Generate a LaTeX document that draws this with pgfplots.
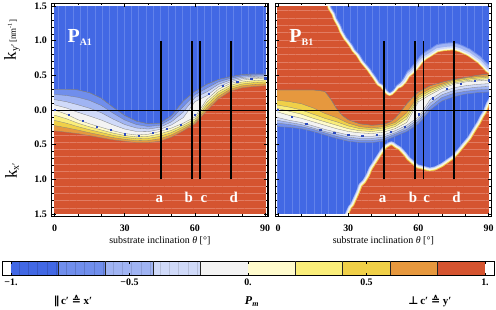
\documentclass[border=0pt]{standalone}
\usepackage{pgfplots}
\pgfplotsset{compat=1.18}
\usepackage{pgfplotstable}
\usetikzlibrary{patterns.meta}
\usepackage{fontspec}
\setmainfont{Liberation Serif}
\newfontfamily\dejavu{DejaVu Sans}

\definecolor{B1}{RGB}{66,104,228}
\definecolor{B2}{RGB}{112,142,236}
\definecolor{B3}{RGB}{160,180,243}
\definecolor{B4}{RGB}{208,218,249}
\definecolor{W}{RGB}{243,243,243}
\definecolor{Y1}{RGB}{255,251,204}
\definecolor{Y2}{RGB}{250,238,122}
\definecolor{Y3}{RGB}{240,208,72}
\definecolor{O}{RGB}{230,152,62}
\definecolor{R}{RGB}{213,84,48}
\definecolor{Rl}{RGB}{226,124,98}
\definecolor{B1l}{RGB}{98,130,234}
\definecolor{dotc}{RGB}{45,75,190}

\tikzset{
 vpat/.style={postaction={pattern={Lines[angle=90,distance=7.3bp,line width=0.45bp]},pattern color=B1l}},
 hpat/.style={postaction={pattern={Lines[angle=0,distance=7.3bp,line width=0.45bp]},pattern color=Rl}},
 lay/.style={draw=black!50, line width=0.3bp},
}

\pgfplotsset{
 panel/.style={
  anchor=south west, scale only axis, width=216.3bp, height=213.4bp,
  xmin=-1.2, xmax=91.2, ymin=-1.54, ymax=1.54,
  axis on top,
  xtick={0,30,60,90}, xticklabels={0,30,60,90}, minor x tick num=2,
  ytick={-1.5,-1,-0.5,0,0.5,1,1.5}, minor y tick num=4,
  major tick length=4bp, minor tick length=2.2bp,
  tick style={black, line width=0.5bp},
  axis line style={black, line width=1.1bp},
  tick label style={font=\bfseries\fontsize{10}{12}\selectfont},
  xticklabel style={anchor=center, yshift=-11.3bp},
  yticklabel style={anchor=east, xshift=-1.4bp},
  xlabel={substrate inclination \textit{θ} [°]},
  xlabel style={font=\fontsize{10}{12}\selectfont, at={(axis description cs:0.5,-0.114)}, anchor=center},
 },
}

% right panel: upper-right blue region (outer edge) and its core
\pgfplotstableread{
x y
22.0 1.70
22.8 1.49
24.5 1.40
25.2 1.33
27.0 1.22
27.8 1.15
29.5 1.05
30.5 1.01
32.0 0.94
33.0 0.88
34.9 0.81
36.5 0.72
37.5 0.68
39.5 0.60
40.5 0.55
42.0 0.48
43.5 0.40
45.0 0.37
46.5 0.30
47.7 0.26
49.0 0.30
50.5 0.36
52.0 0.38
53.4 0.43
55.0 0.52
56.5 0.56
58.5 0.63
60.5 0.72
62.5 0.78
64.5 0.82
67.7 0.89
71.0 0.91
74.8 0.92
78.0 0.89
81.9 0.83
84.0 0.78
86.5 0.72
88.5 0.65
89.8 0.60
91.5 0.56
96.0 0.54
96.0 1.70
}\ubouter
\pgfplotstableread{
x y
22.0 1.70
22.8 1.49
24.5 1.40
25.2 1.33
27.0 1.22
27.8 1.15
29.5 1.05
30.5 1.01
32.0 0.94
33.0 0.88
34.9 0.81
36.5 0.72
37.5 0.68
39.5 0.60
40.5 0.55
42.0 0.48
43.5 0.40
45.0 0.37
46.5 0.30
47.7 0.26
49.0 0.29
50.5 0.36
52.0 0.40
53.4 0.46
55.0 0.56
56.5 0.61
58.5 0.69
60.5 0.78
62.5 0.84
64.5 0.88
67.7 0.95
71.0 0.97
74.8 0.98
78.0 0.95
81.9 0.89
84.0 0.84
86.5 0.78
88.5 0.71
89.8 0.67
91.5 0.63
96.0 0.61
96.0 1.70
}\ubcore
% right panel: lower red region
\pgfplotstableread{
x y
28.0 -1.70
29.9 -1.54
31.5 -1.42
32.5 -1.38
34.9 -1.20
36.0 -1.10
37.5 -1.05
39.1 -0.96
40.5 -0.85
41.5 -0.80
43.0 -0.72
44.9 -0.62
46.5 -0.55
48.4 -0.51
50.0 -0.55
51.5 -0.58
53.4 -0.65
55.0 -0.72
57.0 -0.78
59.1 -0.84
61.5 -0.86
64.8 -0.89
67.5 -0.87
70.5 -0.82
73.0 -0.76
75.5 -0.70
77.6 -0.62
80.0 -0.52
82.5 -0.42
84.8 -0.29
86.5 -0.20
88.0 -0.10
89.0 -0.05
90.5 0.08
91.5 0.14
96.0 0.20
96.0 -1.70
}\lowred

\begin{document}
\begin{tikzpicture}

%================ LEFT PANEL P_A1 ================
\begin{axis}[panel, at={(51.7bp,93.3bp)},
  yticklabels={1.5,1.0,0.5,0.0,0.5,1.0,1.5}]
\addplot[fill=R, draw=none, hpat] coordinates {(-5,-2) (96,-2) (96,2) (-5,2)};
\addplot[fill=O, lay] coordinates {(-5,-0.30) (0,-0.30) (5,-0.32) (10,-0.34) (15,-0.37) (20,-0.40) (25,-0.43) (30,-0.45) (35,-0.47) (40,-0.47) (45,-0.45) (50,-0.39) (55,-0.30) (60,-0.20) (65,-0.01) (70,0.16) (75,0.27) (80,0.32) (85,0.34) (90,0.35) (96,0.35) (96,2) (-5,2)};
\addplot[fill=Y3, lay] coordinates {(-5,-0.225) (0,-0.225) (5,-0.255) (10,-0.29) (15,-0.328) (20,-0.363) (25,-0.398) (30,-0.423) (35,-0.443) (40,-0.44) (45,-0.415) (50,-0.358) (55,-0.273) (60,-0.18) (65,0.03) (70,0.195) (75,0.298) (80,0.348) (85,0.368) (90,0.378) (96,0.378) (96,2) (-5,2)};
\addplot[fill=Y2, lay] coordinates {(-5,-0.15) (0,-0.15) (5,-0.19) (10,-0.24) (15,-0.285) (20,-0.325) (25,-0.365) (30,-0.395) (35,-0.415) (40,-0.41) (45,-0.38) (50,-0.325) (55,-0.245) (60,-0.16) (65,0.07) (70,0.23) (75,0.325) (80,0.375) (85,0.395) (90,0.405) (96,0.405) (96,2) (-5,2)};
\addplot[fill=Y1, lay] coordinates {(-5,-0.075) (0,-0.075) (5,-0.125) (10,-0.19) (15,-0.243) (20,-0.288) (25,-0.333) (30,-0.368) (35,-0.388) (40,-0.38) (45,-0.345) (50,-0.293) (55,-0.218) (60,-0.13) (65,0.11) (70,0.265) (75,0.353) (80,0.403) (85,0.423) (90,0.433) (96,0.433) (96,2) (-5,2)};
\addplot[fill=W, lay] coordinates {(-5,0) (0,0) (5,-0.06) (10,-0.14) (15,-0.20) (20,-0.25) (25,-0.30) (30,-0.34) (35,-0.36) (40,-0.35) (45,-0.31) (50,-0.26) (55,-0.19) (60,-0.10) (65,0.15) (70,0.30) (75,0.38) (80,0.43) (85,0.45) (90,0.46) (96,0.46) (96,2) (-5,2)};
\addplot[fill=B4, lay] coordinates {(-5,0.075) (0,0.075) (5,0.03) (10,-0.033) (15,-0.088) (20,-0.145) (25,-0.215) (30,-0.275) (35,-0.31) (40,-0.313) (45,-0.28) (50,-0.215) (55,-0.11) (60,0.12) (65,0.205) (70,0.335) (75,0.405) (80,0.45) (85,0.468) (90,0.475) (96,0.475) (96,2) (-5,2)};
\addplot[fill=B3, lay] coordinates {(-5,0.15) (0,0.15) (5,0.12) (10,0.075) (15,0.025) (20,-0.04) (25,-0.13) (30,-0.21) (35,-0.26) (40,-0.275) (45,-0.25) (50,-0.17) (55,-0.03) (60,0.18) (65,0.26) (70,0.37) (75,0.43) (80,0.47) (85,0.485) (90,0.49) (96,0.49) (96,2) (-5,2)};
\addplot[fill=B2, lay] coordinates {(-5,0.225) (0,0.225) (5,0.21) (10,0.183) (15,0.138) (20,0.065) (25,-0.045) (30,-0.145) (35,-0.21) (40,-0.238) (45,-0.22) (50,-0.125) (55,0.05) (60,0.22) (65,0.315) (70,0.405) (75,0.455) (80,0.49) (85,0.503) (90,0.505) (96,0.505) (96,2) (-5,2)};
\addplot[fill=B1, lay, vpat] coordinates {(-5,0.30) (0,0.30) (5,0.30) (10,0.29) (15,0.25) (20,0.17) (25,0.04) (30,-0.08) (35,-0.16) (40,-0.20) (45,-0.19) (50,-0.08) (55,0.13) (60,0.27) (65,0.37) (70,0.44) (75,0.48) (80,0.51) (85,0.52) (90,0.52) (96,0.52) (96,2) (-5,2)};
\addplot[only marks, mark=square*, mark size=0.6bp, color=dotc] coordinates {(0,0.0) (6,-0.07) (12,-0.16) (18,-0.24) (24,-0.29) (30,-0.35) (36,-0.37) (42,-0.33) (48,-0.27) (54,-0.21) (60,-0.07) (66,0.23) (72,0.35) (78,0.41) (84,0.45) (90,0.46)};
\addplot[black, line width=0.6bp] coordinates {(-5,0) (96,0)};
\addplot[black, line width=1.7bp] coordinates {(45.4,-1) (45.4,1)};
\addplot[black, line width=1.7bp] coordinates {(58.6,-1) (58.6,1)};
\addplot[black, line width=1.7bp] coordinates {(62.2,-1) (62.2,1)};
\addplot[black, line width=1.7bp] coordinates {(75.3,-1) (75.3,1)};
\node[text=white, anchor=base west, inner sep=0pt] at (axis cs:5.5,0.98) {\bfseries\fontsize{20}{20}\selectfont P\raisebox{-3.5bp}{\fontsize{10}{10}\selectfont A1}};
\node[text=white, anchor=base, inner sep=0pt, font=\bfseries\fontsize{15}{15}\selectfont] at (axis cs:44.8,-1.34) {a};
\node[text=white, anchor=base, inner sep=0pt, font=\bfseries\fontsize{15}{15}\selectfont] at (axis cs:57.4,-1.34) {b};
\node[text=white, anchor=base, inner sep=0pt, font=\bfseries\fontsize{15}{15}\selectfont] at (axis cs:63.8,-1.34) {c};
\node[text=white, anchor=base, inner sep=0pt, font=\bfseries\fontsize{15}{15}\selectfont] at (axis cs:76.6,-1.34) {d};
\draw[white, line width=4.5bp] (rel axis cs:0,0) rectangle (rel axis cs:1,1);
\end{axis}

%================ RIGHT PANEL P_B1 ================
\begin{axis}[panel, at={(275.2bp,93.3bp)}, yticklabels={,,,,,,}]
\addplot[fill=B1, draw=none, vpat] coordinates {(-5,-2) (96,-2) (96,2) (-5,2)};
\addplot[fill=B2, lay] coordinates {(-5,-0.24) (0,-0.24) (5,-0.25) (10,-0.27) (15,-0.31) (20,-0.36) (25,-0.41) (30,-0.45) (35,-0.47) (40,-0.47) (45,-0.45) (50,-0.38) (55,-0.31) (60,-0.20) (65,0.0) (70,0.13) (75,0.19) (80,0.23) (85,0.25) (90,0.26) (96,0.26) (96,2) (-5,2)};
\addplot[fill=B3, lay] coordinates {(-5,-0.19) (0,-0.19) (5,-0.21) (10,-0.24) (15,-0.28) (20,-0.33) (25,-0.38) (30,-0.42) (35,-0.44) (40,-0.44) (45,-0.42) (50,-0.35) (55,-0.28) (60,-0.16) (65,0.05) (70,0.18) (75,0.24) (80,0.27) (85,0.29) (90,0.30) (96,0.30) (96,2) (-5,2)};
\addplot[fill=B4, lay] coordinates {(-5,-0.15) (0,-0.15) (5,-0.18) (10,-0.21) (15,-0.26) (20,-0.31) (25,-0.35) (30,-0.39) (35,-0.41) (40,-0.41) (45,-0.39) (50,-0.33) (55,-0.25) (60,-0.13) (65,0.10) (70,0.22) (75,0.28) (80,0.31) (85,0.33) (90,0.34) (96,0.34) (96,2) (-5,2)};
\addplot[fill=W, lay] coordinates {(-5,-0.11) (0,-0.11) (5,-0.15) (10,-0.18) (15,-0.23) (20,-0.28) (25,-0.32) (30,-0.36) (35,-0.38) (40,-0.38) (45,-0.36) (50,-0.30) (55,-0.22) (60,-0.10) (65,0.15) (70,0.26) (75,0.32) (80,0.35) (85,0.37) (90,0.38) (96,0.38) (96,2) (-5,2)};
\addplot[fill=Y1, lay] coordinates {(-5,-0.03) (0,-0.03) (5,-0.08) (10,-0.12) (15,-0.17) (20,-0.22) (25,-0.27) (30,-0.31) (35,-0.33) (40,-0.34) (45,-0.32) (50,-0.27) (55,-0.18) (60,0.12) (65,0.22) (70,0.31) (75,0.37) (80,0.405) (85,0.42) (90,0.43) (96,0.43) (96,2) (-5,2)};
\addplot[fill=Y2, lay] coordinates {(-5,0.02) (0,0.02) (5,-0.02) (10,-0.06) (15,-0.12) (20,-0.17) (25,-0.22) (30,-0.27) (35,-0.30) (40,-0.31) (45,-0.29) (50,-0.24) (55,-0.13) (60,0.15) (65,0.25) (70,0.33) (75,0.39) (80,0.42) (85,0.44) (90,0.45) (96,0.45) (96,2) (-5,2)};
\addplot[fill=Y3, lay] coordinates {(-5,0.07) (0,0.07) (5,0.04) (10,0.0) (15,-0.06) (20,-0.12) (25,-0.17) (30,-0.23) (35,-0.27) (40,-0.28) (45,-0.26) (50,-0.21) (55,-0.09) (60,0.18) (65,0.28) (70,0.35) (75,0.41) (80,0.44) (85,0.46) (90,0.47) (96,0.47) (96,2) (-5,2)};
\addplot[fill=O, lay] coordinates {(-5,0.14) (0,0.14) (5,0.12) (10,0.09) (15,0.03) (20,-0.05) (25,-0.11) (30,-0.19) (35,-0.24) (40,-0.26) (45,-0.24) (50,-0.18) (55,-0.04) (60,0.21) (65,0.31) (70,0.37) (75,0.43) (80,0.46) (85,0.48) (90,0.49) (96,0.49) (96,2) (-5,2)};
\addplot[fill=R, lay, hpat] coordinates {(-5,0.29) (0,0.29) (5,0.29) (10,0.29) (15,0.29) (20,0.27) (22.5,0.16) (25,0.02) (27.5,-0.08) (30,-0.14) (35,-0.20) (40,-0.22) (45,-0.21) (48,-0.17) (50,-0.12) (52.5,-0.02) (55,0.09) (57.5,0.18) (60,0.26) (65,0.35) (70,0.40) (75,0.44) (80,0.47) (85,0.50) (90,0.52) (96,0.52) (96,2) (-5,2)};
% upper-right blue region with halo
\addplot[fill=Y3, draw=Y3, line width=8bp, line join=round] table {\ubouter};
\addplot[fill=Y1, draw=Y1, line width=6.5bp, line join=round] table {\ubouter};
\addplot[fill=W, draw=W, line width=5bp, line join=round] table {\ubouter};
\addplot[fill=B4, draw=B4, line width=3.5bp, line join=round] table {\ubouter};
\addplot[fill=B3, draw=none] table {\ubouter};
\addplot[fill=B2, draw=B2, line width=2bp, line join=round] table {\ubcore};
\addplot[fill=B1, draw=none, vpat] table {\ubcore};
% lower red region with halo
\addplot[fill=B3, draw=B3, line width=8bp, line join=round] table {\lowred};
\addplot[fill=B4, draw=B4, line width=6.5bp, line join=round] table {\lowred};
\addplot[fill=W, draw=W, line width=5bp, line join=round] table {\lowred};
\addplot[fill=Y1, draw=Y1, line width=3.5bp, line join=round] table {\lowred};
\addplot[fill=Y3, draw=Y3, line width=2bp, line join=round] table {\lowred};
\addplot[fill=R, draw=none, hpat] table {\lowred};
\addplot[only marks, mark=square*, mark size=0.6bp, color=dotc] coordinates {(0,0) (6,-0.1) (12,-0.2) (18,-0.29) (24,-0.33) (30,-0.36) (36,-0.37) (42,-0.36) (48,-0.31) (54,-0.24) (60,-0.06) (66,0.17) (72,0.31) (78,0.38) (84,0.42) (90,0.43)};
\addplot[black, line width=0.6bp] coordinates {(-5,0) (96,0)};
\addplot[black, line width=1.7bp] coordinates {(45.4,-1) (45.4,1)};
\addplot[black, line width=1.7bp] coordinates {(58.6,-1) (58.6,1)};
\addplot[black, line width=1.7bp] coordinates {(62.2,-1) (62.2,1)};
\addplot[black, line width=1.7bp] coordinates {(75.3,-1) (75.3,1)};
\node[text=white, anchor=base west, inner sep=0pt] at (axis cs:4.8,0.98) {\bfseries\fontsize{20}{20}\selectfont P\raisebox{-3.5bp}{\fontsize{10}{10}\selectfont B1}};
\node[text=white, anchor=base, inner sep=0pt, font=\bfseries\fontsize{15}{15}\selectfont] at (axis cs:44.7,-1.34) {a};
\node[text=white, anchor=base, inner sep=0pt, font=\bfseries\fontsize{15}{15}\selectfont] at (axis cs:57.7,-1.34) {b};
\node[text=white, anchor=base, inner sep=0pt, font=\bfseries\fontsize{15}{15}\selectfont] at (axis cs:63.5,-1.34) {c};
\node[text=white, anchor=base, inner sep=0pt, font=\bfseries\fontsize{15}{15}\selectfont] at (axis cs:76.3,-1.34) {d};
\draw[white, line width=4.5bp] (rel axis cs:0,0) rectangle (rel axis cs:1,1);
\end{axis}

%================ COLOUR BAR ================
\begin{axis}[at={(2bp,35bp)}, anchor=south west, scale only axis, width=492bp, height=14bp,
  xmin=-1.038, xmax=1.038, ymin=0, ymax=1, ytick=\empty,
  xtick={-1,-0.5,0,0.5,1}, xticklabels={−1.,−0.5,0.,0.5,1.},
  major tick length=2.5bp, tick style={black, line width=0.5bp},
  tick label style={font=\bfseries\fontsize{10}{12}\selectfont},
  xticklabel style={anchor=center, yshift=-7bp},
  axis line style={black, line width=0.9bp}, axis on top,
  extra x ticks={-0.8,-0.6,-0.4,-0.2,0.2,0.4,0.6,0.8}, extra x tick labels={},
  extra x tick style={grid=major, major grid style={black!85, line width=0.9bp}, major tick length=0pt}]
\addplot[fill=B1, draw=none, postaction={pattern={Lines[angle=90,distance=9.4bp,line width=0.4bp]}, pattern color=B1!85!black}] coordinates {(-1,0) (-0.8,0) (-0.8,1) (-1,1)};
\addplot[fill=B2, draw=none, postaction={pattern={Lines[angle=90,distance=9.4bp,line width=0.4bp]}, pattern color=B2!85!black}] coordinates {(-0.8,0) (-0.6,0) (-0.6,1) (-0.8,1)};
\addplot[fill=B3, draw=none, postaction={pattern={Lines[angle=90,distance=9.4bp,line width=0.4bp]}, pattern color=B3!88!black}] coordinates {(-0.6,0) (-0.4,0) (-0.4,1) (-0.6,1)};
\addplot[fill=B4, draw=none, postaction={pattern={Lines[angle=90,distance=9.4bp,line width=0.4bp]}, pattern color=B4!88!black}] coordinates {(-0.4,0) (-0.2,0) (-0.2,1) (-0.4,1)};
\addplot[fill=W, draw=none] coordinates {(-0.2,0) (0,0) (0,1) (-0.2,1)};
\addplot[fill=Y1, draw=none] coordinates {(0,0) (0.2,0) (0.2,1) (0,1)};
\addplot[fill=Y2, draw=none] coordinates {(0.2,0) (0.4,0) (0.4,1) (0.2,1)};
\addplot[fill=Y3, draw=none] coordinates {(0.4,0) (0.6,0) (0.6,1) (0.4,1)};
\addplot[fill=O, draw=none] coordinates {(0.6,0) (0.8,0) (0.8,1) (0.6,1)};
\addplot[fill=R, draw=none] coordinates {(0.8,0) (1,0) (1,1) (0.8,1)};
\end{axis}

%================ TEXT ================
\node[rotate=90, anchor=center, inner sep=0pt] at (12bp,270bp) {{\fontsize{17}{17}\selectfont k}\raisebox{-2bp}{\fontsize{10}{10}\selectfont y′}\,{\fontsize{9}{9}\selectfont [nm\textsuperscript{-1}]}};
\node[rotate=90, anchor=center, inner sep=0pt] at (12bp,139bp) {{\fontsize{17}{17}\selectfont k}\raisebox{-2bp}{\fontsize{10}{10}\selectfont x′}};
\node[anchor=center, inner sep=0pt, font=\bfseries\fontsize{11}{12}\selectfont] at (73bp,8.5bp) {{\dejavu\bfseries ∥}\,c′ {\dejavu\bfseries ≙} x′};
\node[anchor=center, inner sep=0pt, font=\bfseries\fontsize{12}{12}\selectfont] at (252bp,8.5bp) {\textit{P}\textsubscript{\textit{m}}};
\node[anchor=center, inner sep=0pt, font=\bfseries\fontsize{11}{12}\selectfont] at (430bp,8.5bp) {{\dejavu\bfseries ⊥}\,c′ {\dejavu\bfseries ≙} y′};

\pgfresetboundingbox
\useasboundingbox (0,0) rectangle (496bp,310bp);
\end{tikzpicture}
\end{document}
